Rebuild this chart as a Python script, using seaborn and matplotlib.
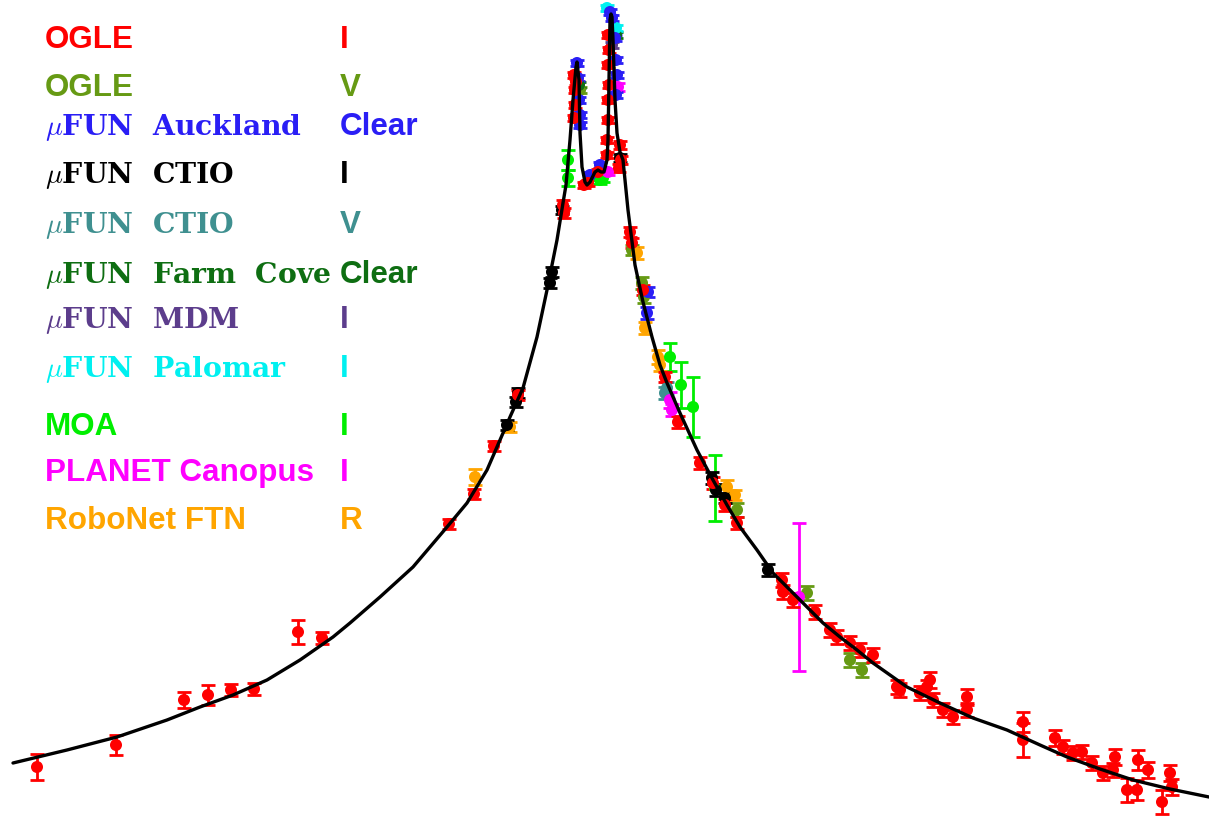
import numpy as np
import pandas as pd
import matplotlib
matplotlib.use("Agg")
import matplotlib.pyplot as plt
import seaborn as sns

sns.set_theme(style="white")
plt.rcParams['font.family'] = ['Liberation Sans', 'DejaVu Sans']
plt.rcParams['mathtext.fontset'] = 'cm'

# ---- model light curve (time in days, magnitude) ----
model_t = [-11.74, -10.66, -9.66, -8.66, -8.00, -7.34, -6.66, -6.00, -5.34, -5.00,
           -4.40, -3.74, -3.06, -2.66, -2.26, -2.00, -1.80, -1.54, -1.26, -1.06,
           -0.86, -0.74, -0.68, -0.60, -0.54, -0.48, -0.46, -0.42, -0.40, -0.36,
           -0.30, -0.26, -0.20, -0.10, -0.04, 0.02, 0.08, 0.14, 0.16, 0.18,
           0.20, 0.22, 0.24, 0.26, 0.30, 0.34, 0.40, 0.46, 0.50, 0.56,
           0.70, 0.86, 1.04, 1.20, 1.34, 1.60, 1.94, 2.26, 2.54, 2.80,
           3.14, 3.46, 3.80, 4.14, 4.46, 4.80, 5.14, 5.46, 5.80, 6.14,
           6.80, 7.46, 8.14, 8.80, 9.34, 10.00, 10.66, 11.40, 12.18]
model_m = [19.63, 19.50, 19.37, 19.20, 19.07, 18.95, 18.80, 18.60, 18.37, 18.23,
           17.97, 17.67, 17.27, 17.03, 16.70, 16.40, 16.17, 15.88, 15.37, 14.90,
           14.40, 14.03, 13.85, 13.40, 13.00, 12.67, 12.62, 12.80, 13.33, 13.67,
           13.82, 13.85, 13.82, 13.72, 13.70, 13.72, 13.72, 13.60, 13.40, 12.80,
           12.20, 12.14, 12.17, 12.40, 13.00, 13.33, 13.52, 13.60, 13.80, 14.10,
           14.65, 15.02, 15.37, 15.65, 15.83, 16.13, 16.50, 16.80, 17.05, 17.27,
           17.50, 17.73, 17.90, 18.07, 18.23, 18.37, 18.50, 18.63, 18.75, 18.87,
           19.03, 19.18, 19.30, 19.45, 19.57, 19.69, 19.80, 19.89, 19.97]

# ---- OGLE I ----
ogle_i_t = [-11.26, -9.68, -8.32, -7.84, -7.38, -6.92, -6.04, -5.56, -3.02, -2.52,
            -2.12, -1.64, -0.74, -0.72, -0.52, -0.50, -0.50, -0.52, -0.48,
            -0.32, -0.24, -0.04, 0.16, 0.18, 0.16, 0.18, 0.16, 0.16, 0.14, 0.14,
            0.40, 0.42, 0.38, 0.60, 0.64, 0.86, 1.30, 1.56, 2.00, 2.26, 2.50, 2.74,
            3.64, 3.66, 3.86, 4.30, 4.60, 4.74, 5.00, 5.20, 5.46,
            5.94, 6.00, 6.40, 6.54, 6.60, 6.66, 6.86, 7.06, 7.34, 7.34,
            8.46, 8.46, 9.10, 9.26, 9.46, 9.64, 9.84, 10.06, 10.30, 10.26,
            10.54, 10.74, 10.76, 10.96, 11.24, 11.40, 11.44]
ogle_i_m = [19.67, 19.45, 19.00, 18.95, 18.90, 18.89, 18.32, 18.38, 17.24, 16.94,
            16.46, 15.95, 14.05, 14.13, 12.75, 12.90, 13.05, 13.18, 12.82,
            13.85, 13.83, 13.72, 12.35, 12.50, 12.65, 12.85, 13.00, 13.20, 13.40, 13.55,
            13.45, 13.60, 13.68, 14.32, 14.43, 14.90, 15.77, 16.22, 16.63, 16.83, 17.05, 17.23,
            17.80, 17.92, 18.00, 18.12, 18.30, 18.37, 18.43, 18.50, 18.55,
            18.87, 18.90, 18.93, 18.87, 18.80, 19.00, 19.10, 19.17, 18.97, 19.10,
            19.22, 19.40, 19.38, 19.47, 19.53, 19.52, 19.63, 19.73, 19.57, 19.70,
            19.90, 19.90, 19.60, 19.70, 20.02, 19.73, 19.87]
ogle_i_e = [0.13, 0.10, 0.08, 0.10, 0.06, 0.06, 0.12, 0.06, 0.05, 0.05,
            0.05, 0.05, 0.05, 0.05, 0.03, 0.03, 0.03, 0.03, 0.03,
            0.03, 0.03, 0.03, 0.03, 0.03, 0.03, 0.03, 0.03, 0.03, 0.03, 0.03,
            0.04, 0.04, 0.04, 0.05, 0.05, 0.05, 0.05, 0.06, 0.06, 0.06, 0.06, 0.06,
            0.07, 0.07, 0.07, 0.07, 0.07, 0.07, 0.07, 0.07, 0.07,
            0.07, 0.07, 0.07, 0.07, 0.08, 0.07, 0.07, 0.07, 0.08, 0.07,
            0.10, 0.17, 0.08, 0.07, 0.07, 0.07, 0.07, 0.07, 0.08, 0.07,
            0.12, 0.10, 0.10, 0.08, 0.12, 0.08, 0.08]

# ---- OGLE V ----
ogle_v_t = [-0.40, 0.64, 0.84, 0.88, 2.74, 4.14, 5.00, 5.24]
ogle_v_m = [12.90, 14.50, 14.83, 14.97, 17.10, 17.93, 18.60, 18.70]
ogle_v_e = [0.03, 0.05, 0.06, 0.06, 0.07, 0.07, 0.07, 0.07]

# ---- muFUN Auckland Clear ----
auck_t = [-0.46, -0.44, -0.42, -0.40, -0.40, 0.20, 0.24, 0.30, 0.32, 0.34, 0.32, -0.20, 0.00, 0.94, 0.96]
auck_m = [12.63, 12.78, 13.00, 13.15, 13.25, 12.12, 12.18, 12.38, 12.60, 12.75, 12.95, 13.75, 13.65, 15.13, 14.92]
auck_e = [0.03, 0.03, 0.03, 0.03, 0.03, 0.03, 0.03, 0.03, 0.03, 0.03, 0.03, 0.03, 0.03, 0.06, 0.05]

# ---- muFUN CTIO I ----
ctio_i_t = [-1.00, -0.96, -0.76, -1.86, -1.68, -1.64, 2.24, 2.32, 2.50, 3.36, 0.40]
ctio_i_m = [14.83, 14.72, 14.10, 16.25, 16.02, 15.93, 16.78, 16.90, 16.98, 17.70, 13.58]
ctio_i_e = [0.05, 0.05, 0.04, 0.05, 0.05, 0.05, 0.06, 0.06, 0.05, 0.06, 0.04]

# ---- muFUN CTIO V ----
ctio_v_t = [1.34, 1.30]
ctio_v_m = [15.88, 15.93]
ctio_v_e = [0.06, 0.06]

# ---- muFUN Farm Cove Clear ----
farm_t = [-0.42, 0.32]
farm_m = [12.85, 12.35]
farm_e = [0.03, 0.03]

# ---- muFUN MDM I ----
mdm_t = [0.24]
mdm_m = [12.45]
mdm_e = [0.03]

# ---- muFUN Palomar I ----
palo_t = [0.14, 0.32]
palo_m = [12.08, 12.28]
palo_e = [0.03, 0.03]

# ---- MOA I ----
moa_t = [-0.64, -0.64, 0.06, 0.00, 1.40, 1.62, 1.86, 2.30]
moa_m = [13.60, 13.78, 13.78, 13.80, 15.57, 15.85, 16.07, 16.88]
moa_e = [0.10, 0.08, 0.04, 0.04, 0.14, 0.23, 0.30, 0.33]

# ---- PLANET Canopus I ----
planet_t = [3.98, 1.40, 1.44, 0.36, 0.16]
planet_m = [17.97, 16.00, 16.10, 12.87, 13.72]
planet_e = [0.74, 0.08, 0.06, 0.04, 0.03]

# ---- RoboNet FTN R ----
robo_t = [-2.50, -1.80, 0.74, 0.90, 1.16, 1.20, 2.54, 2.70]
robo_m = [16.77, 16.27, 14.53, 15.28, 15.57, 15.65, 16.87, 16.95]
robo_e = [0.08, 0.05, 0.06, 0.06, 0.07, 0.06, 0.07, 0.05]

# legend labels (observatory, filter)
labels_obs = ['OGLE', 'OGLE', r'$\mu$FUN  Auckland', r'$\mu$FUN  CTIO', r'$\mu$FUN  CTIO',
              r'$\mu$FUN  Farm  Cove', r'$\mu$FUN  MDM', r'$\mu$FUN  Palomar',
              'MOA', 'PLANET Canopus', 'RoboNet FTN']
labels_band = ['I', 'V', 'Clear', 'I', 'V', 'Clear', 'I', 'I', 'I', 'I', 'R']
colors = ['#ff0000', '#669a14', '#2a1ef5', '#000000', '#3f9090', '#0e6e12',
          '#5c3d8c', '#00f0f0', '#00ee00', '#ff00ff', '#ffa500']

datasets = [
    (ogle_v_t, ogle_v_m, ogle_v_e, 1),
    (ctio_v_t, ctio_v_m, ctio_v_e, 4),
    (farm_t, farm_m, farm_e, 5),
    (mdm_t, mdm_m, mdm_e, 6),
    (moa_t, moa_m, moa_e, 8),
    (planet_t, planet_m, planet_e, 9),
    (robo_t, robo_m, robo_e, 10),
    (ctio_i_t, ctio_i_m, ctio_i_e, 3),
    (palo_t, palo_m, palo_e, 7),
    (auck_t, auck_m, auck_e, 2),
    (ogle_i_t, ogle_i_m, ogle_i_e, 0),
]

fig = plt.figure(figsize=(12.09, 8.19), dpi=100)
ax = fig.add_axes([0, 0, 1, 1])

for t, m, e, k in datasets:
    df = pd.DataFrame({'t': t, 'm': m})
    ax.errorbar(t, m, yerr=e, fmt='none', ecolor=colors[k], elinewidth=2.0,
                capsize=5, capthick=2.0, zorder=2)
    sns.scatterplot(data=df, x='t', y='m', ax=ax, color=colors[k], s=75,
                    edgecolor='none', linewidth=0, zorder=3, legend=False)

model = pd.DataFrame({'t': model_t, 'm': model_m})
sns.lineplot(data=model, x='t', y='m', ax=ax, color='black', lw=2.4, zorder=5,
             sort=False, estimator=None)

ax.set_xlim(-12.0, 12.18)
ax.set_ylim(20.19, 12.0)
ax.axis('off')

W, H = 1209.0, 819.0
baselines = [48, 96, 135, 183, 233, 283, 328, 377, 435, 481, 529]
for i in range(len(labels_obs)):
    y = 1 - baselines[i] / H
    if labels_obs[i].startswith(r'$\mu$'):
        fig.text(45 / W, y, labels_obs[i], color=colors[i], fontsize=20.3,
                 family='DejaVu Serif', fontweight='bold', va='baseline', ha='left')
    else:
        fig.text(45 / W, y, labels_obs[i], color=colors[i], fontsize=22.6,
                 fontweight='bold', va='baseline', ha='left')
    fig.text(340 / W, y, labels_band[i], color=colors[i], fontsize=22.6,
             fontweight='bold', va='baseline', ha='left')

fig.savefig('out.png', dpi=100, facecolor='white')
